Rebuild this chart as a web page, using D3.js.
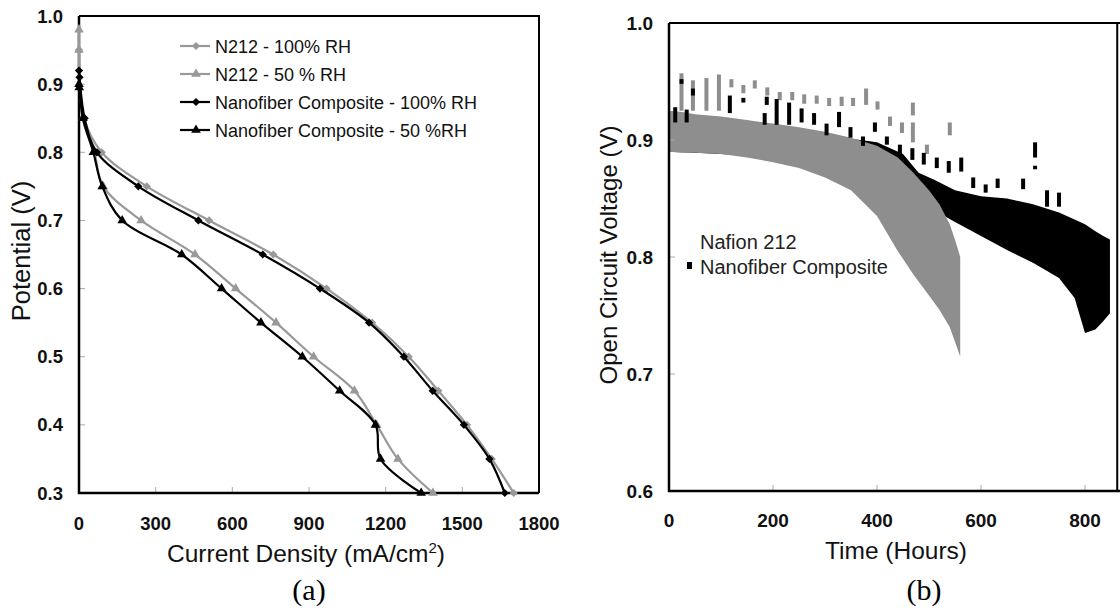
<!DOCTYPE html>
<html>
<head>
<meta charset="utf-8">
<script src="https://cdn.jsdelivr.net/npm/d3@7"></script>
<style>
  body { margin: 0; background: #fff; }
  svg { display: block; font-family: "Liberation Sans", Arial, sans-serif; }
</style>
</head>
<body>
<script>
// ---- panel (a): polarization curves ----
const currentN212Full = [0, 20, 89, 265, 509, 760, 969, 1147, 1290, 1406, 1518, 1615, 1701];
const potentialN212Full = [0.95, 0.85, 0.80, 0.75, 0.70, 0.65, 0.60, 0.55, 0.50, 0.45, 0.40, 0.35, 0.30];
const currentN212Half = [0, 0, 15, 60, 95, 243, 454, 613, 771, 918, 1078, 1165, 1248, 1385];
const potentialN212Half = [0.98, 0.95, 0.85, 0.80, 0.75, 0.70, 0.65, 0.60, 0.55, 0.50, 0.45, 0.40, 0.35, 0.30];
const currentNanoFull = [0, 2, 22, 70, 232, 467, 719, 943, 1135, 1271, 1384, 1506, 1606, 1666];
const potentialNanoFull = [0.92, 0.91, 0.85, 0.80, 0.75, 0.70, 0.65, 0.60, 0.55, 0.50, 0.45, 0.40, 0.35, 0.30];
const currentNanoHalf = [0, 1, 15, 56, 91, 169, 402, 558, 712, 874, 1020, 1160, 1180, 1339];
const potentialNanoHalf = [0.90, 0.895, 0.85, 0.80, 0.75, 0.70, 0.65, 0.60, 0.55, 0.50, 0.45, 0.40, 0.35, 0.30];
const seriesNamesA = ["N212 - 100% RH", "N212 - 50 % RH", "Nanofiber Composite - 100% RH", "Nanofiber Composite - 50 %RH"];
const xTicksA = [0, 300, 600, 900, 1200, 1500, 1800];
const yTicksA = [0.3, 0.4, 0.5, 0.6, 0.7, 0.8, 0.9, 1.0];

// ---- panel (b): open circuit voltage vs time ----
const nafionTime = [0, 25, 50, 100, 150, 200, 250, 300, 350, 400, 440, 470, 500, 520, 540, 552, 560];
const nafionUpper = [0.925, 0.924, 0.922, 0.920, 0.917, 0.914, 0.911, 0.907, 0.902, 0.895, 0.885, 0.872, 0.857, 0.845, 0.828, 0.812, 0.80];
const nafionLower = [0.890, 0.889, 0.889, 0.888, 0.885, 0.881, 0.876, 0.868, 0.857, 0.835, 0.805, 0.785, 0.767, 0.755, 0.740, 0.725, 0.715];
const nafionSpikeTime = [24, 46, 72, 96, 120, 143, 165, 189, 213, 237, 260, 284, 308, 332, 354, 379, 401, 425, 448, 469, 469, 496, 540];
const nafionSpikeHigh = [0.957, 0.951, 0.953, 0.956, 0.952, 0.947, 0.951, 0.945, 0.941, 0.941, 0.939, 0.938, 0.936, 0.937, 0.936, 0.944, 0.933, 0.920, 0.915, 0.932, 0.915, 0.896, 0.915];
const nafionSpikeLow = [0.925, 0.925, 0.925, 0.925, 0.945, 0.940, 0.944, 0.938, 0.934, 0.934, 0.931, 0.931, 0.929, 0.929, 0.929, 0.930, 0.926, 0.912, 0.906, 0.921, 0.898, 0.888, 0.904];

const nanoTime = [0, 50, 100, 200, 300, 400, 450, 480, 510, 550, 600, 650, 700, 750, 780, 800, 820, 835, 848];
const nanoUpper = [0.920, 0.918, 0.916, 0.911, 0.904, 0.898, 0.888, 0.872, 0.866, 0.857, 0.852, 0.850, 0.845, 0.838, 0.832, 0.828, 0.822, 0.818, 0.815];
const nanoLower = [0.890, 0.889, 0.888, 0.885, 0.878, 0.865, 0.855, 0.848, 0.840, 0.830, 0.818, 0.806, 0.795, 0.782, 0.765, 0.735, 0.738, 0.745, 0.752];
const nanoSpikeTime = [12, 24, 34, 46, 117, 143, 184, 188, 207, 231, 255, 279, 303, 327, 349, 373, 396, 419, 444, 468, 490, 515, 538, 562, 585, 609, 632, 681, 704, 704, 727, 750];
const nanoSpikeHigh = [0.928, 0.952, 0.926, 0.944, 0.938, 0.936, 0.923, 0.937, 0.935, 0.932, 0.927, 0.923, 0.914, 0.924, 0.911, 0.903, 0.915, 0.903, 0.896, 0.893, 0.889, 0.885, 0.882, 0.885, 0.868, 0.862, 0.867, 0.867, 0.898, 0.878, 0.857, 0.855];
const nanoSpikeLow = [0.915, 0.948, 0.915, 0.938, 0.923, 0.932, 0.913, 0.930, 0.913, 0.913, 0.915, 0.913, 0.904, 0.911, 0.902, 0.895, 0.907, 0.896, 0.886, 0.883, 0.879, 0.876, 0.872, 0.873, 0.859, 0.855, 0.859, 0.858, 0.885, 0.875, 0.843, 0.843];
const seriesNamesB = ["Nafion 212", "Nanofiber Composite"];
const xTicksB = [0, 200, 400, 600, 800];
const yTicksB = [0.6, 0.7, 0.8, 0.9, 1.0];

const width = 1120;
const height = 608;
const grayA = "#999999";
const grayB = "#8e8e8e";

const svg = d3.select("body").append("svg")
    .attr("width", width)
    .attr("height", height);

// scales
const xA = d3.scaleLinear().domain([0, 1800]).range([79, 539]);
const yA = d3.scaleLinear().domain([0.3, 1.0]).range([493, 16]);
const xB = d3.scaleLinear().domain([0, 1000]).range([669, 1189]);
const yB = d3.scaleLinear().domain([0.6, 1.0]).range([491, 23]);
const xBmax = 862; // panel (b) is cut off at the right

const zip = (xs, ys) => xs.map((x, i) => [x, ys[i]]);

// ================= panel (a) =================
const gA = svg.append("g");

// inner ticks
gA.selectAll(".ytA").data(yTicksA.slice(1, -1)).enter().append("line")
    .attr("x1", xA(0)).attr("x2", xA(0) + 6)
    .attr("y1", d => yA(d)).attr("y2", d => yA(d))
    .attr("stroke", "#aaa").attr("stroke-width", 1);
gA.selectAll(".xtA").data(xTicksA.slice(1, -1)).enter().append("line")
    .attr("x1", d => xA(d)).attr("x2", d => xA(d))
    .attr("y1", yA(0.3)).attr("y2", yA(0.3) - 6)
    .attr("stroke", "#aaa").attr("stroke-width", 1);

// frame
gA.append("path")
    .attr("d", `M${xA(0)},${yA(1)}H${xA(1800)}V${yA(0.3)}`)
    .attr("fill", "none").attr("stroke", "#000").attr("stroke-width", 2);
gA.append("path")
    .attr("d", `M${xA(0)},${yA(1)}V${yA(0.3)}H${xA(1800)}`)
    .attr("fill", "none").attr("stroke", "#000").attr("stroke-width", 2.5);

// tick labels
gA.selectAll(".ylA").data(yTicksA).enter().append("text")
    .attr("x", 63).attr("y", d => yA(d) + 6.5)
    .attr("text-anchor", "end")
    .style("font-size", "18.5px").style("font-weight", "bold").style("fill", "#111")
    .text(d => d.toFixed(1));
gA.selectAll(".xlA").data(xTicksA).enter().append("text")
    .attr("x", d => xA(d)).attr("y", 530)
    .attr("text-anchor", "middle")
    .style("font-size", "18.5px").style("font-weight", "bold").style("fill", "#111")
    .text(d => d);

// axis titles
const xTitleA = gA.append("text")
    .attr("x", 306).attr("y", 562)
    .attr("text-anchor", "middle")
    .style("font-size", "24.5px").style("fill", "#111");
xTitleA.append("tspan").text("Current Density (mA/cm");
xTitleA.append("tspan").attr("dy", -9).style("font-size", "15px").text("2");
xTitleA.append("tspan").attr("dy", 9).text(")");
gA.append("text")
    .attr("transform", "translate(30,251) rotate(-90)")
    .attr("text-anchor", "middle")
    .style("font-size", "25.5px").style("fill", "#111")
    .text("Potential (V)");

// series
const seriesA = [
    { name: seriesNamesA[0], pts: zip(currentN212Full, potentialN212Full), color: grayA, symbol: "diamond" },
    { name: seriesNamesA[1], pts: zip(currentN212Half, potentialN212Half), color: grayA, symbol: "triangle" },
    { name: seriesNamesA[2], pts: zip(currentNanoFull, potentialNanoFull), color: "#000", symbol: "diamond" },
    { name: seriesNamesA[3], pts: zip(currentNanoHalf, potentialNanoHalf), color: "#000", symbol: "triangle" }
];

const lineA = d3.line()
    .x(d => xA(d[0]))
    .y(d => yA(d[1]))
    .curve(d3.curveCatmullRom.alpha(0.5));

const diamond = d3.symbol().type(d3.symbolSquare).size(34);
const triangle = d3.symbol().type(d3.symbolTriangle).size(40);
const markerPath = s => s === "diamond" ? diamond() : triangle();
const markerRot = s => s === "diamond" ? " rotate(45)" : "";

seriesA.forEach(s => {
    gA.append("path")
        .attr("d", lineA(s.pts))
        .attr("fill", "none")
        .attr("stroke", s.color)
        .attr("stroke-width", 2.2);
    gA.selectAll(null).data(s.pts).enter().append("path")
        .attr("d", markerPath(s.symbol))
        .attr("transform", d => `translate(${xA(d[0])},${yA(d[1])})${markerRot(s.symbol)}`)
        .attr("fill", s.color);
});

// legend (a)
const legA = gA.selectAll(".legA").data(seriesA).enter().append("g")
    .attr("transform", (d, i) => `translate(180,${46 + i * 28})`);
legA.append("line")
    .attr("x1", 0).attr("x2", 30)
    .attr("stroke", d => d.color).attr("stroke-width", 2.2);
legA.append("path")
    .attr("d", d => markerPath(d.symbol))
    .attr("transform", d => `translate(16,0)${markerRot(d.symbol)}`)
    .attr("fill", d => d.color);
legA.append("text")
    .attr("x", 35).attr("y", 6.5)
    .style("font-size", "18px").style("fill", "#111")
    .text(d => d.name);

gA.append("text")
    .attr("x", 309).attr("y", 600)
    .attr("text-anchor", "middle")
    .style("font-family", "'Liberation Serif', 'Times New Roman', serif")
    .style("font-size", "30px").style("fill", "#000")
    .text("(a)");

// ================= panel (b) =================
const gB = svg.append("g");

gB.append("clipPath").attr("id", "clipB")
    .append("rect")
    .attr("x", xB(0)).attr("y", yB(1.0))
    .attr("width", xB(xBmax) - xB(0)).attr("height", yB(0.6) - yB(1.0));

const plotB = gB.append("g").attr("clip-path", "url(#clipB)");

const areaB = d3.area()
    .x(d => xB(d.t))
    .y0(d => yB(d.lo))
    .y1(d => yB(d.hi));

const nanoBand = nanoTime.map((t, i) => ({ t, lo: nanoLower[i], hi: nanoUpper[i] }));
const nafionBand = nafionTime.map((t, i) => ({ t, lo: nafionLower[i], hi: nafionUpper[i] }));
const nanoSpikes = nanoSpikeTime.map((t, i) => ({ t, lo: nanoSpikeLow[i], hi: nanoSpikeHigh[i] }));
const nafionSpikes = nafionSpikeTime.map((t, i) => ({ t, lo: nafionSpikeLow[i], hi: nafionSpikeHigh[i] }));

plotB.append("path").attr("d", areaB(nanoBand)).attr("fill", "#000");
plotB.append("path").attr("d", areaB(nafionBand)).attr("fill", grayB);

plotB.selectAll(".spG").data(nafionSpikes).enter().append("rect")
    .attr("x", d => xB(d.t) - 2).attr("width", 4)
    .attr("y", d => yB(d.hi)).attr("height", d => yB(d.lo) - yB(d.hi))
    .attr("fill", grayB);
plotB.selectAll(".spK").data(nanoSpikes).enter().append("rect")
    .attr("x", d => xB(d.t) - 2).attr("width", 4)
    .attr("y", d => yB(d.hi)).attr("height", d => yB(d.lo) - yB(d.hi))
    .attr("fill", "#000");

// inner ticks
gB.selectAll(".ytB").data(yTicksB.slice(1, -1)).enter().append("line")
    .attr("x1", xB(0)).attr("x2", xB(0) + 6)
    .attr("y1", d => yB(d)).attr("y2", d => yB(d))
    .attr("stroke", "#aaa").attr("stroke-width", 1);
gB.selectAll(".xtB").data(xTicksB.slice(1)).enter().append("line")
    .attr("x1", d => xB(d)).attr("x2", d => xB(d))
    .attr("y1", yB(0.6)).attr("y2", yB(0.6) - 6)
    .attr("stroke", "#aaa").attr("stroke-width", 1);

// frame
gB.append("path")
    .attr("d", `M${xB(0)},${yB(1)}H${width}M${xB(xBmax)},${yB(1)}V${yB(0.6)}`)
    .attr("fill", "none").attr("stroke", "#000").attr("stroke-width", 2);
gB.append("path")
    .attr("d", `M${xB(0)},${yB(1)}V${yB(0.6)}H${width}`)
    .attr("fill", "none").attr("stroke", "#000").attr("stroke-width", 2.5);

// tick labels
gB.selectAll(".ylB").data(yTicksB).enter().append("text")
    .attr("x", 653).attr("y", d => yB(d) + 7)
    .attr("text-anchor", "end")
    .style("font-size", "19px").style("font-weight", "bold").style("fill", "#111")
    .text(d => d.toFixed(1));
gB.selectAll(".xlB").data(xTicksB).enter().append("text")
    .attr("x", d => xB(d)).attr("y", 527)
    .attr("text-anchor", "middle")
    .style("font-size", "19px").style("font-weight", "bold").style("fill", "#111")
    .text(d => d);

gB.append("text")
    .attr("x", 896).attr("y", 559)
    .attr("text-anchor", "middle")
    .style("font-size", "24.5px").style("fill", "#111")
    .text("Time (Hours)");
gB.append("text")
    .attr("transform", "translate(617,255) rotate(-90)")
    .attr("text-anchor", "middle")
    .style("font-size", "24px").style("fill", "#111")
    .text("Open Circuit Voltage (V)");

// legend (b)
const legB = gB.selectAll(".legB").data(seriesNamesB).enter().append("g")
    .attr("transform", (d, i) => `translate(700,${249 + i * 25})`);
legB.append("rect")
    .attr("x", -13).attr("y", -12).attr("width", 5).attr("height", 7)
    .attr("fill", (d, i) => i === 0 ? "none" : "#000");
legB.append("text")
    .style("font-size", "20px").style("fill", "#222")
    .text(d => d);

gB.append("text")
    .attr("x", 924).attr("y", 600)
    .attr("text-anchor", "middle")
    .style("font-family", "'Liberation Serif', 'Times New Roman', serif")
    .style("font-size", "30px").style("fill", "#000")
    .text("(b)");
</script>
</body>
</html>
